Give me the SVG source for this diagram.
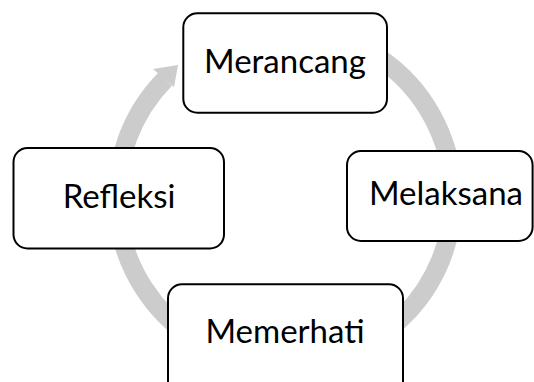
<svg xmlns="http://www.w3.org/2000/svg" width="534" height="382" viewBox="0 0 534 382">
  <style>
    .ring { fill: none; stroke: #cccccc; stroke-width: 19; }
    .head { fill: #cccccc; }
    .box { fill: #ffffff; stroke: #000000; stroke-width: 2; }
    .lbl { font-family: Lato, "Open Sans", "Liberation Sans", sans-serif; font-size: 33px; fill: #000000; text-anchor: middle; }
  </style>
  <rect x="0" y="0" width="534" height="382" fill="#ffffff"/>
  <g id="connectors">
    <path class="ring" d="M 314.2 31.6 A 168 168 0 1 1 165.2 79.2"/>
    <polygon class="head" points="178,65 153,69 174,87"/>
  </g>
  <g id="node-merancang">
    <rect class="box" x="183.3" y="13.3" width="203.7" height="99.4" rx="14" ry="14"/>
    <text class="lbl" x="285" y="73">Merancang</text>
  </g>
  <g id="node-melaksana">
    <rect class="box" x="347" y="151" width="185.6" height="90" rx="14" ry="14"/>
    <text class="lbl" x="446" y="205">Melaksana</text>
  </g>
  <g id="node-memerhati">
    <rect class="box" x="168" y="284.3" width="235" height="112" rx="14" ry="14"/>
    <text class="lbl" x="285" y="343">Memerhati</text>
  </g>
  <g id="node-refleksi">
    <rect class="box" x="13.5" y="148" width="210.5" height="100.5" rx="14" ry="14"/>
    <text class="lbl" x="119" y="208">Refleksi</text>
  </g>
</svg>
